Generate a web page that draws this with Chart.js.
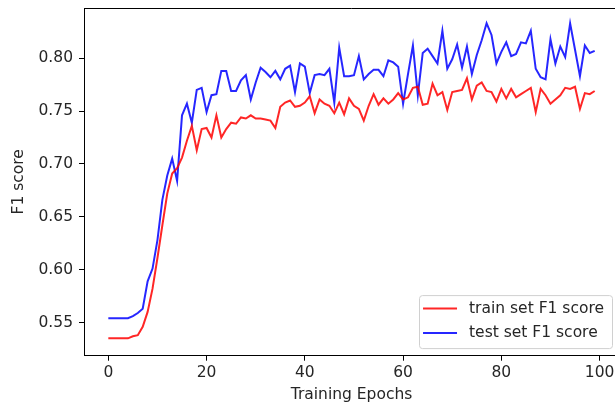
<!DOCTYPE html>
<html>
<head>
<meta charset="utf-8">
<script src="https://cdn.jsdelivr.net/npm/chart.js@4.4.1/dist/chart.umd.min.js"></script>
<style>
  html, body { margin: 0; padding: 0; overflow: hidden; background: #fff; }
  #wrap { width: 620px; height: 408px; }
</style>
</head>
<body>
<div id="wrap"><canvas id="chart" width="620" height="408"></canvas></div>
<script>
// F1 per epoch
const trainF1 = [
  0.535, 0.535, 0.535, 0.535, 0.535, 0.537, 0.538, 0.546, 0.560, 0.582,
  0.611, 0.642, 0.672, 0.691, 0.696, 0.706, 0.722, 0.736, 0.713, 0.733,
  0.734, 0.725, 0.746, 0.725, 0.733, 0.739, 0.738, 0.744, 0.743, 0.746,
  0.743, 0.743, 0.742, 0.741, 0.734, 0.754, 0.758, 0.760, 0.754, 0.755,
  0.758, 0.764, 0.748, 0.761, 0.757, 0.755, 0.748, 0.758, 0.747, 0.762,
  0.755, 0.752, 0.741, 0.755, 0.766, 0.756, 0.762, 0.757, 0.761, 0.767,
  0.761, 0.763, 0.772, 0.773, 0.756, 0.757, 0.776, 0.765, 0.768, 0.751,
  0.768, 0.769, 0.770, 0.781, 0.761, 0.774, 0.777, 0.769, 0.768, 0.759,
  0.771, 0.762, 0.771, 0.763, 0.766, 0.769, 0.772, 0.749, 0.771, 0.765,
  0.757, 0.761, 0.765, 0.772, 0.771, 0.773, 0.752, 0.767, 0.766, 0.769
];
const testF1 = [
  0.554, 0.554, 0.554, 0.554, 0.554, 0.556, 0.559, 0.563, 0.589, 0.601,
  0.628, 0.666, 0.689, 0.705, 0.684, 0.746, 0.757, 0.739, 0.770, 0.772,
  0.749, 0.765, 0.766, 0.788, 0.788, 0.769, 0.769, 0.779, 0.784, 0.761,
  0.777, 0.791, 0.787, 0.782, 0.788, 0.780, 0.790, 0.793, 0.768, 0.795,
  0.792, 0.767, 0.784, 0.785, 0.784, 0.790, 0.758, 0.810, 0.783, 0.783,
  0.784, 0.802, 0.780, 0.785, 0.789, 0.789, 0.783, 0.798, 0.796, 0.792,
  0.757, 0.785, 0.812, 0.765, 0.805, 0.809, 0.802, 0.795, 0.826, 0.790,
  0.799, 0.813, 0.791, 0.811, 0.785, 0.803, 0.817, 0.833, 0.822, 0.795,
  0.806, 0.815, 0.802, 0.804, 0.815, 0.814, 0.826, 0.790, 0.782, 0.780,
  0.818, 0.795, 0.811, 0.801, 0.833, 0.808, 0.783, 0.812, 0.805, 0.807
];
const xTicks = [0, 20, 40, 60, 80, 100];
const yTicks = [0.55, 0.60, 0.65, 0.70, 0.75, 0.80];
const seriesNames = ["train set F1 score", "test set F1 score"];
const xTitle = "Training Epochs";
const yTitle = "F1 score";

const font = { family: "'DejaVu Sans', sans-serif", size: 15.5 };
const textColor = "#262626";

const toPoints = (arr) => arr.map((v, i) => ({ x: i, y: v }));

// top + right spines
const frame = {
  id: "frame",
  afterDraw(chart) {
    const { ctx, chartArea: a } = chart;
    ctx.save();
    ctx.strokeStyle = "#000";
    ctx.lineWidth = 1;
    ctx.beginPath();
    ctx.moveTo(a.left, a.top + 0.5);
    ctx.lineTo(a.right - 0.5, a.top + 0.5);
    ctx.lineTo(a.right - 0.5, a.bottom);
    ctx.stroke();
    ctx.restore();
  },
};

// matplotlib style legend, lower right inside the axes
const boxLegend = {
  id: "boxLegend",
  afterDraw(chart) {
    const { ctx, chartArea: a } = chart;
    const sets = chart.data.datasets;
    ctx.save();
    ctx.font = font.size + "px " + font.family;
    const textW = Math.max(...sets.map((d) => ctx.measureText(d.label).width));
    const w = 4 + 34 + 12 + textW + 8;
    const h = 53;
    const right = 612;
    const bottom = a.bottom - 7.6;
    const left = right - w;
    const top = bottom - h;
    ctx.beginPath();
    ctx.roundRect(left + 0.5, top + 0.5, w, h, 3);
    ctx.fillStyle = "rgba(255,255,255,0.8)";
    ctx.fill();
    ctx.strokeStyle = "#d0d0d0";
    ctx.lineWidth = 1;
    ctx.stroke();
    sets.forEach((d, i) => {
      const y = top + 13.5 + i * 24.4;
      ctx.strokeStyle = d.borderColor;
      ctx.lineWidth = d.borderWidth;
      ctx.beginPath();
      ctx.moveTo(left + 4, y);
      ctx.lineTo(left + 38, y);
      ctx.stroke();
      ctx.fillStyle = textColor;
      ctx.textBaseline = "middle";
      ctx.textAlign = "left";
      ctx.fillText(d.label, left + 50, y);
    });
    ctx.restore();
  },
};

const ctx = document.getElementById("chart").getContext("2d");
const chart = new Chart(ctx, {
  type: "line",
  data: {
    datasets: [
      {
        label: seriesNames[0],
        data: toPoints(trainF1),
        borderColor: "rgba(255,0,0,0.85)",
        borderWidth: 2,
        pointRadius: 0,
        tension: 0,
      },
      {
        label: seriesNames[1],
        data: toPoints(testF1),
        borderColor: "rgba(0,0,255,0.85)",
        borderWidth: 2,
        pointRadius: 0,
        tension: 0,
      },
    ],
  },
  options: {
    responsive: false,
    animation: false,
    layout: { padding: { top: 8, right: 1, bottom: 0, left: 0 } },
    plugins: { legend: { display: false }, tooltip: { enabled: false } },
    scales: {
      x: {
        type: "linear",
        min: -4.95,
        max: 103.95,
        afterBuildTicks: (s) => { s.ticks = xTicks.map((v) => ({ value: v })); },
        afterFit: (s) => { s.height = 52.3; s.paddingLeft = 0; s.paddingRight = 0; },
        grid: { drawOnChartArea: false, tickLength: 5, tickColor: "#000", lineWidth: 1 },
        border: { color: "#000", width: 1 },
        ticks: { font, color: textColor, padding: 3, maxRotation: 0, autoSkip: false, callback: (v) => String(v) },
        title: { display: true, text: xTitle, font, color: textColor, padding: { top: 0, bottom: 4 } },
      },
      y: {
        type: "linear",
        min: 0.5186,
        max: 0.8475,
        afterBuildTicks: (s) => { s.ticks = yTicks.map((v) => ({ value: v })); },
        afterFit: (s) => { s.width = 84; s.paddingTop = 0; s.paddingBottom = 0; },
        grid: { drawOnChartArea: false, tickLength: 5, tickColor: "#000", lineWidth: 1 },
        border: { color: "#000", width: 1 },
        ticks: { font, color: textColor, padding: 6, autoSkip: false, callback: (v) => v.toFixed(2) },
        title: { display: true, text: yTitle, font, color: textColor, padding: { top: 10, bottom: 0 } },
      },
    },
  },
  plugins: [frame, boxLegend],
});
</script>
</body>
</html>
